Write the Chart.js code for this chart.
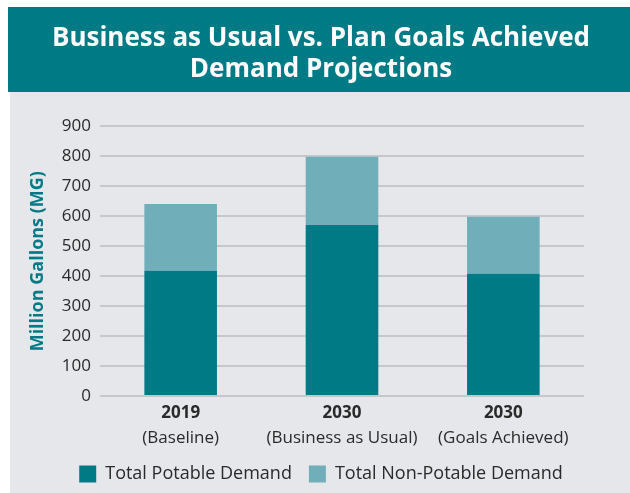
<!DOCTYPE html>
<html>
<head>
<meta charset="utf-8">
<title>Demand Projections</title>
<script src="https://cdn.jsdelivr.net/npm/chart.js@4.4.0/dist/chart.umd.min.js"></script>
<style>
  html, body { margin: 0; padding: 0; background: #ffffff; }
  #wrap { position: relative; width: 630px; height: 493px; }
</style>
</head>
<body>
<div id="wrap"><canvas id="demandChart"></canvas></div>
<script>
// chart data
const years = ['2019', '2030', '2030'];
const scenarios = ['(Baseline)', '(Business as Usual)', '(Goals Achieved)'];
const potable = [418, 571, 408];
const nonPotable = [223, 228, 190];
const yTicks = [0, 100, 200, 300, 400, 500, 600, 700, 800, 900];

const TEAL = '#007b86';
const LIGHT_TEAL = '#70afba';
const PANEL = '#e6e7eb';
const TEXT = '#2a2a2a';

// paints the white page, grey panel and teal header band behind everything
const backdrop = {
    id: 'backdrop',
    beforeDraw(chart) {
        const ctx = chart.ctx;
        const w = chart.width, h = chart.height;
        ctx.save();
        ctx.fillStyle = '#ffffff';
        ctx.fillRect(0, 0, w, h);
        ctx.fillStyle = PANEL;
        ctx.fillRect(10, 92, w - 10, h - 92);
        ctx.fillStyle = TEAL;
        ctx.fillRect(8, 7, w - 8, 85);
        ctx.restore();
    }
};

const ctx = document.getElementById('demandChart').getContext('2d');
new Chart(ctx, {
    type: 'bar',
    data: {
        labels: years,
        datasets: [
            {
                label: 'Total Potable Demand',
                data: potable,
                backgroundColor: TEAL,
                barPercentage: 0.9,
                categoryPercentage: 0.5
            },
            {
                label: 'Total Non-Potable Demand',
                data: nonPotable,
                backgroundColor: LIGHT_TEAL,
                barPercentage: 0.9,
                categoryPercentage: 0.5
            }
        ]
    },
    options: {
        responsive: true,
        maintainAspectRatio: false,
        animation: false,
        layout: { padding: { left: 12, right: 0, top: 0, bottom: 0 } },
        plugins: {
            title: {
                display: true,
                text: ['Business as Usual vs. Plan Goals Achieved', 'Demand Projections'],
                color: '#ffffff',
                font: { family: 'Open Sans', size: 26, weight: 'bold', lineHeight: 1.2 },
                padding: { top: 23, bottom: 41 }
            },
            legend: {
                position: 'bottom',
                labels: {
                    color: TEXT,
                    font: { family: 'Open Sans', size: 18 },
                    boxWidth: 17,
                    boxHeight: 17,
                    padding: 17
                }
            },
            tooltip: { enabled: false }
        },
        scales: {
            x: {
                stacked: true,
                grid: { display: false, drawTicks: false },
                border: { display: false },
                ticks: {
                    color: TEXT,
                    font: { family: 'Open Sans', size: 17, weight: 'bold' },
                    padding: 7
                },
                afterFit(axis) { axis.height = 22; }
            },
            x2: {
                type: 'category',
                labels: scenarios,
                position: 'bottom',
                offset: true,
                grid: { display: false, drawTicks: false },
                border: { display: false },
                ticks: {
                    color: TEXT,
                    font: { family: 'Open Sans', size: 17 },
                    padding: 10
                },
                afterFit(axis) { axis.height = 30; }
            },
            y: {
                stacked: true,
                min: 0,
                max: 900,
                afterBuildTicks(axis) {
                    axis.ticks = yTicks.map(v => ({ value: v }));
                },
                grid: { color: '#c6c7cb', lineWidth: 2, drawTicks: false },
                border: { display: false },
                ticks: {
                    color: TEXT,
                    font: { family: 'Open Sans', size: 17 },
                    padding: 9
                },
                title: {
                    display: true,
                    text: 'Million Gallons (MG)',
                    color: TEAL,
                    font: { family: 'Open Sans', size: 18, weight: 'bold' },
                    padding: { top: 15, bottom: 0 }
                },
                afterFit(axis) { axis.width = 88; }
            },
            // empty right-hand axis, only keeps the plot clear of the panel edge
            y2: {
                type: 'linear',
                position: 'right',
                display: true,
                grid: { display: false, drawTicks: false },
                border: { display: false },
                ticks: { display: false },
                afterFit(axis) { axis.width = 46; }
            }
        }
    },
    plugins: [backdrop]
});
</script>
</body>
</html>
